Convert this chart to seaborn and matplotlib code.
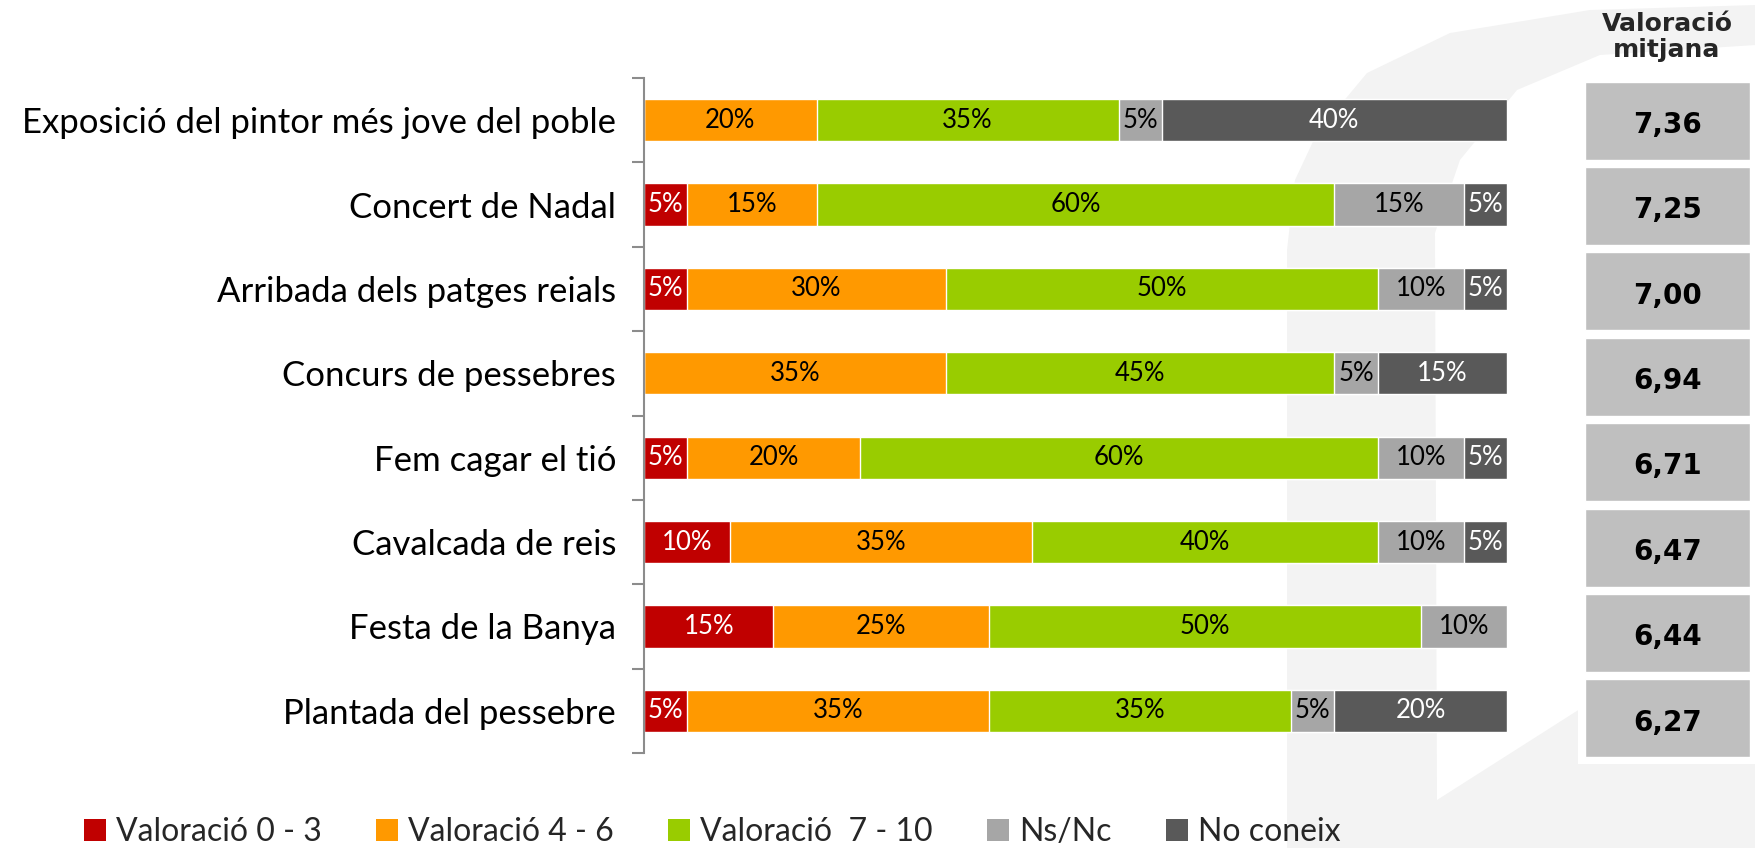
import matplotlib
matplotlib.use("Agg")
import matplotlib.pyplot as plt
from matplotlib.patches import Patch, Polygon, Rectangle
import pandas as pd
import seaborn as sns

# Dades
categories = [
    "Exposició del pintor més jove del poble",
    "Concert de Nadal",
    "Arribada dels patges reials",
    "Concurs de pessebres",
    "Fem cagar el tió",
    "Cavalcada de reis",
    "Festa de la Banya",
    "Plantada del pessebre",
]
series_names = ["Valoració 0 - 3", "Valoració 4 - 6", "Valoració  7 - 10", "Ns/Nc", "No coneix"]
val_0_3 = [0, 5, 5, 0, 5, 10, 15, 5]
val_4_6 = [20, 15, 30, 35, 20, 35, 25, 35]
val_7_10 = [35, 60, 50, 45, 60, 40, 50, 35]
ns_nc = [5, 15, 10, 5, 10, 10, 10, 5]
no_coneix = [40, 5, 5, 15, 5, 5, 0, 20]
mitjana = ["7,36", "7,25", "7,00", "6,94", "6,71", "6,47", "6,44", "6,27"]

colors = ["#C00000", "#FF9900", "#99CC00", "#A6A6A6", "#595959"]
text_colors = ["white", "black", "black", "black", "white"]

sns.set_style("white")
plt.rcParams["font.family"] = ["Lato", "DejaVu Sans"]

W, H = 1756, 848
fig = plt.figure(figsize=(W / 100, H / 100), dpi=100)


def fx(px):
    return px / W


def fy(py):
    return 1 - py / H


# Marca d'aigua de fons
outer = [(1287, 848), (1287, 250), (1295, 180), (1317, 133), (1367, 73),
         (1450, 33), (1590, 10), (1756, 5), (1756, 848)]
inner = [(1435, 233), (1460, 160), (1517, 90), (1600, 55), (1756, 45),
         (1756, 640), (1583, 707), (1437, 800)]
for poly, fc in [(outer, "#F3F3F3"), (inner, "white")]:
    fig.patches.append(Polygon([(fx(a), fy(b)) for a, b in poly], closed=True,
                               transform=fig.transFigure, facecolor=fc,
                               edgecolor="none", zorder=-2))
fig.patches.append(Rectangle((fx(1578), fy(764)), fx(1756) - fx(1578), fy(75) - fy(764),
                             transform=fig.transFigure, facecolor="white",
                             edgecolor="none", zorder=-1))

df = pd.DataFrame({
    "activitat": categories,
    series_names[0]: val_0_3,
    series_names[1]: val_4_6,
    series_names[2]: val_7_10,
    series_names[3]: ns_nc,
    series_names[4]: no_coneix,
})
cum = df[series_names].cumsum(axis=1)

ax = fig.add_axes([fx(644), fy(753), fx(1507) - fx(644), fy(78) - fy(753)])
ax.patch.set_alpha(0)

# Barres apilades (de la suma total cap enrere)
for j in range(len(series_names) - 1, -1, -1):
    sns.barplot(x=cum[series_names[j]], y=df["activitat"], orient="h",
                color=colors[j], saturation=1, width=0.5, ax=ax,
                edgecolor="white", linewidth=1)

# Etiquetes dins les barres
for i in range(len(categories)):
    left = 0
    for j, name in enumerate(series_names):
        v = df.loc[i, name]
        if v > 0:
            ax.text(left + v / 2, i, f"{v}%", ha="center", va="center",
                    fontsize=18.5, color=text_colors[j])
        left += v

ax.set_xlim(0, 100)
ax.set_ylim(len(categories) - 0.5, -0.5)
ax.set_xlabel("")
ax.set_ylabel("")
ax.set_xticks([])
for s in ["top", "right", "bottom"]:
    ax.spines[s].set_visible(False)
ax.spines["left"].set_color("#8C8C8C")
ax.spines["left"].set_linewidth(1.5)
ax.set_yticks([k - 0.5 for k in range(len(categories) + 1)], minor=True)
ax.tick_params(axis="y", which="minor", length=9, width=1.5, color="#8C8C8C", left=True)
ax.tick_params(axis="y", which="major", length=0, pad=20, labelsize=25, labelcolor="black")

# Valoració mitjana
ax2 = fig.add_axes([fx(1585), fy(761), fx(1750) - fx(1585), fy(78) - fy(761)])
ax2.patch.set_alpha(0)
sns.barplot(x=[1] * len(categories), y=categories, orient="h", color="#BFBFBF",
            saturation=1, width=0.915, ax=ax2)
for i, m in enumerate(mitjana):
    ax2.text(0.5, i + 0.05, m, ha="center", va="center", fontsize=20,
             fontweight="bold", family="DejaVu Sans", color="black")
ax2.set_xlim(0, 1)
ax2.set_ylim(len(categories) - 0.5, -0.5)
ax2.axis("off")

fig.text(fx(1667), fy(37), "Valoració\nmitjana", ha="center", va="center",
         fontsize=18, fontweight="bold", family="DejaVu Sans", linespacing=1.1)

# Llegenda
handles = [Patch(facecolor=c, edgecolor="none") for c in colors]
fig.legend(handles, series_names, loc="center", bbox_to_anchor=(fx(712), fy(832)),
           ncol=5, frameon=False, fontsize=23, handlelength=0.7, handleheight=0.7,
           handletextpad=0.3, columnspacing=1.7, borderaxespad=0)

fig.savefig("out.png", dpi=100)
plt.close(fig)
